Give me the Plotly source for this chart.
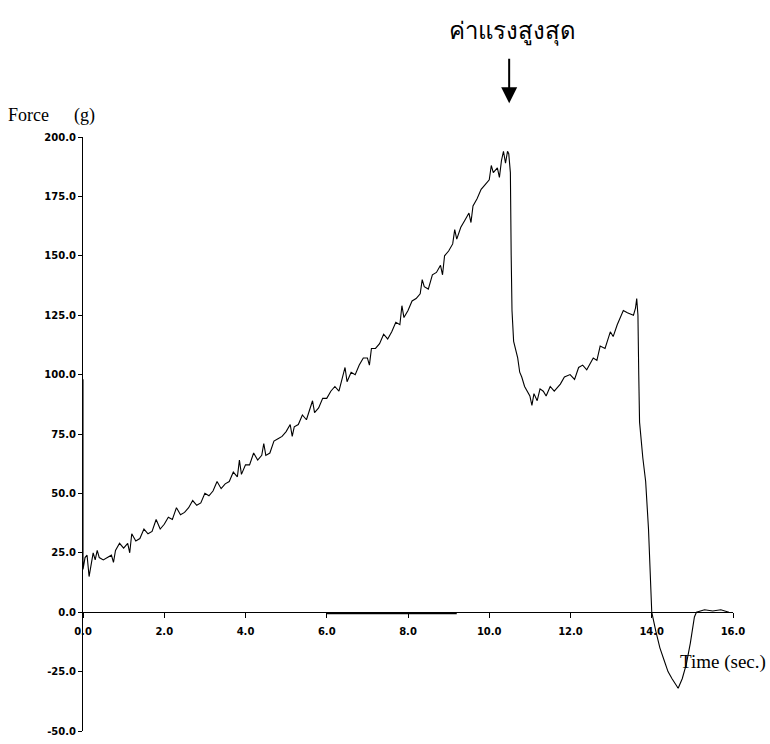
import plotly.graph_objects as go

# Force trace (time in seconds, force in grams)
rise_t = [0.0, 0.0, 0.05, 0.1, 0.15, 0.2, 0.25, 0.3, 0.35, 0.4, 0.5, 0.6, 0.7, 0.75, 0.8, 0.9, 1.0,
          1.1, 1.15, 1.2, 1.3, 1.4, 1.5, 1.6, 1.7, 1.8, 1.9, 2.0,
          2.1, 2.2, 2.3, 2.4, 2.5, 2.6, 2.7, 2.8, 2.9, 3.0,
          3.1, 3.2, 3.3, 3.4, 3.5, 3.6, 3.7, 3.8, 3.85, 3.9, 4.0,
          4.1, 4.2, 4.3, 4.4, 4.45, 4.5, 4.6, 4.7, 4.8, 4.9, 5.0,
          5.1, 5.15, 5.2, 5.3, 5.4, 5.5, 5.6, 5.65, 5.7, 5.8, 5.9, 6.0,
          6.1, 6.2, 6.3, 6.4, 6.45, 6.5, 6.6, 6.7, 6.8, 6.9, 7.0,
          7.05, 7.1, 7.2, 7.3, 7.4, 7.5, 7.6, 7.7, 7.8, 7.85, 7.9, 8.0,
          8.1, 8.2, 8.3, 8.35, 8.4, 8.5, 8.6, 8.7, 8.8, 8.85, 8.9, 9.0,
          9.1, 9.15, 9.2, 9.3, 9.4, 9.5, 9.55, 9.6, 9.7, 9.8, 9.9, 10.0,
          10.05, 10.1, 10.2, 10.25, 10.3, 10.35, 10.4, 10.45]
rise_f = [98, 18, 23, 24, 15, 21, 25, 22, 26, 23, 22, 23, 24, 21, 26, 29, 27,
          29, 25, 33, 30, 31, 35, 33, 34, 39, 35, 37,
          40, 39, 44, 41, 42, 44, 47, 45, 46, 50,
          49, 51, 55, 52, 54, 55, 59, 57, 64, 58, 62,
          62, 67, 64, 66, 71, 66, 67, 72, 73, 74, 76,
          79, 74, 78, 79, 83, 81, 86, 89, 84, 86, 90, 90,
          93, 95, 93, 99, 103, 97, 101, 100, 104, 107, 107,
          104, 111, 111, 113, 117, 115, 118, 122, 121, 129, 124, 127,
          131, 132, 134, 140, 137, 136, 142, 143, 146, 142, 150, 152,
          155, 161, 157, 162, 165, 168, 164, 171, 174, 178, 180, 182,
          188, 185, 187, 183, 190, 194, 189, 194]

fall_t = [10.48, 10.52, 10.54, 10.56, 10.6, 10.7, 10.75, 10.8, 10.87, 10.93,
          11.0, 11.05, 11.1, 11.18, 11.25, 11.33, 11.4, 11.5, 11.6, 11.75,
          11.85, 11.99, 12.1, 12.2, 12.3, 12.4, 12.56, 12.65, 12.73, 12.85,
          12.98, 13.05, 13.15, 13.3, 13.4, 13.55, 13.6, 13.63, 13.66, 13.68,
          13.7, 13.78, 13.85, 13.92, 13.97, 14.0, 14.1, 14.2, 14.3, 14.4,
          14.5, 14.6, 14.65, 14.75, 14.85, 14.95, 15.0, 15.05, 15.1, 15.3,
          15.5, 15.7, 15.9]
fall_f = [193, 185, 150, 127, 114, 107, 101, 99, 95, 93,
          91, 87, 92, 89, 94, 93, 91, 95, 93, 96,
          99, 100, 98, 103, 104, 102, 107, 106, 112, 111,
          118, 116, 121, 127, 126, 125, 128, 132, 125, 100,
          80, 65, 55, 35, 15, 0, -8, -15, -20, -25,
          -28, -31, -32, -28, -22, -13, -7, -2, 0, 1,
          0.5, 1, 0]

base_t = [6.0, 9.2]
base_f = [-0.6, -0.6]

y_ticks = [-50, -25, 0, 25, 50, 75, 100, 125, 150, 175, 200]
y_labels = ["-50.0", "-25.0", "0.0", "25.0", "50.0", "75.0", "100.0",
            "125.0", "150.0", "175.0", "200.0"]
x_ticks = [0, 2, 4, 6, 8, 10, 12, 14, 16]
x_labels = ["0.0", "2.0", "4.0", "6.0", "8.0", "10.0", "12.0", "14.0", "16.0"]

fig = go.Figure()
fig.add_trace(go.Scatter(x=rise_t + fall_t, y=rise_f + fall_f, mode="lines",
                         line=dict(color="black", width=1.1), showlegend=False))
fig.add_trace(go.Scatter(x=base_t, y=base_f, mode="lines",
                         line=dict(color="black", width=1.2), showlegend=False))

tick_font = dict(family="DejaVu Sans", size=10, color="black", weight="bold")

fig.update_layout(
    width=770, height=744,
    margin=dict(l=83, r=37, t=137, b=7),
    paper_bgcolor="white", plot_bgcolor="white",
    showlegend=False,
    xaxis=dict(range=[0, 16], tickvals=x_ticks, ticktext=x_labels,
               showgrid=False, zeroline=False, showline=True, linecolor="black",
               linewidth=1, ticks="outside", ticklen=5, tickcolor="black",
               tickfont=tick_font, anchor="free", position=0.2,
               ticklabelstandoff=5),
    yaxis=dict(range=[-50, 200], tickvals=y_ticks, ticktext=y_labels,
               showgrid=False, zeroline=False, showline=True, linecolor="black",
               linewidth=1, ticks="outside", ticklen=4, tickcolor="black",
               tickfont=tick_font),
)

serif = "Liberation Serif"
fig.add_annotation(text="Force", xref="paper", yref="paper", x=-0.119, y=1.037,
                   xanchor="left", yanchor="middle", showarrow=False,
                   font=dict(family=serif, size=18, color="black"))
fig.add_annotation(text="(g)", xref="paper", yref="paper", x=-0.017, y=1.037,
                   xanchor="left", yanchor="middle", showarrow=False,
                   font=dict(family=serif, size=18, color="black"))
fig.add_annotation(text="Time (sec.)", xref="paper", yref="paper", x=0.9154, y=0.1167,
                   xanchor="left", yanchor="middle", showarrow=False,
                   font=dict(family=serif, size=19, color="black"))
fig.add_annotation(text="ค่าแรงสูงสุด", xref="paper", yref="paper", x=0.6615, y=1.1817,
                   xanchor="center", yanchor="middle", showarrow=False,
                   font=dict(family="Noto Sans, DejaVu Sans, sans-serif", size=24, color="black"))
fig.add_annotation(text="", xref="x", yref="paper", x=10.49, y=1.0567,
                   ax=0, ay=-46, showarrow=True, arrowhead=2, arrowsize=1.6,
                   arrowwidth=2, arrowcolor="black")

fig.write_html("out.html")
